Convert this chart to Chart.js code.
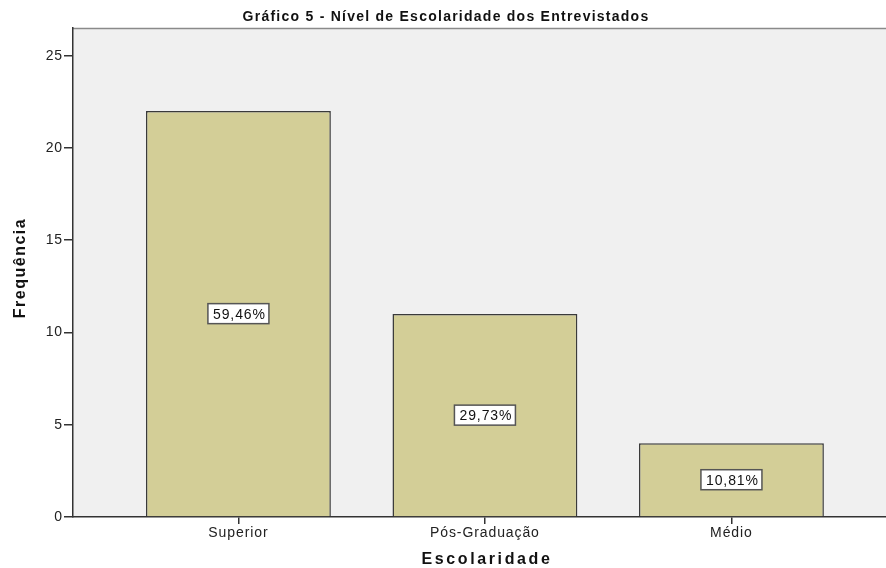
<!DOCTYPE html>
<html>
<head>
<meta charset="utf-8">
<script src="https://cdn.jsdelivr.net/npm/chart.js@4/dist/chart.umd.min.js"></script>
<style>
  body { margin: 0; background: #fff; }
  #wrap { width: 886px; height: 568px; }
</style>
</head>
<body>
<div id="wrap"><canvas id="grafico" width="886" height="568"></canvas></div>
<script>
// escolaridade dos entrevistados (frequência)
const categorias = ["Superior", "Pós-Graduação", "Médio"];
const frequencias = [22, 11, 4];
const yTicks = [0, 5, 10, 15, 20, 25];

const total = frequencias.reduce((a, b) => a + b, 0);
const percentuais = frequencias.map((v) => (v / total * 100).toFixed(2).replace(".", ",") + "%");

const fonte = "'Liberation Sans', Arial, sans-serif";

// fundo cinza da área do gráfico + borda superior
const fundo = {
  id: "fundo",
  beforeDraw(chart) {
    const { ctx, chartArea: a } = chart;
    ctx.save();
    ctx.fillStyle = "#f0f0f0";
    ctx.fillRect(a.left, a.top, a.right - a.left, a.bottom - a.top);
    ctx.strokeStyle = "#8a8a8a";
    ctx.lineWidth = 1.5;
    ctx.beginPath();
    ctx.moveTo(a.left, a.top + 0.5);
    ctx.lineTo(a.right, a.top + 0.5);
    ctx.stroke();
    ctx.restore();
    // espaçamento dos rótulos dos eixos
    ctx.letterSpacing = "0.9px";
  }
};

// título e nomes dos eixos
const textos = {
  id: "textos",
  afterDraw(chart) {
    const { ctx } = chart;
    ctx.save();
    ctx.fillStyle = "#111";
    ctx.textAlign = "center";
    ctx.textBaseline = "middle";
    ctx.font = "bold 14px " + fonte;
    ctx.letterSpacing = "1.25px";
    ctx.fillText("Gráfico 5 - Nível de Escolaridade dos Entrevistados", 446, 17);
    ctx.font = "bold 16px " + fonte;
    ctx.letterSpacing = "2.6px";
    ctx.fillText("Escolaridade", 487, 560);
    ctx.translate(21, 268);
    ctx.rotate(-Math.PI / 2);
    ctx.letterSpacing = "1.5px";
    ctx.fillText("Frequência", 0, 0);
    ctx.restore();
  }
};

// rótulos de percentual no meio de cada barra
const rotulos = {
  id: "rotulos",
  afterDatasetsDraw(chart) {
    const { ctx } = chart;
    const meta = chart.getDatasetMeta(0);
    ctx.save();
    ctx.font = "14px " + fonte;
    ctx.letterSpacing = "0.9px";
    ctx.textAlign = "center";
    ctx.textBaseline = "middle";
    meta.data.forEach((bar, i) => {
      const txt = percentuais[i];
      const cx = bar.x;
      const cy = (bar.y + bar.base) / 2;
      const w = 61;
      const h = 20;
      ctx.fillStyle = "#fff";
      ctx.fillRect(cx - w / 2, cy - h / 2, w, h);
      ctx.strokeStyle = "#555";
      ctx.lineWidth = 1.5;
      ctx.strokeRect(cx - w / 2, cy - h / 2, w, h);
      ctx.fillStyle = "#111";
      ctx.fillText(txt, cx + 1, cy + 1);
    });
    ctx.restore();
  }
};

new Chart(document.getElementById("grafico"), {
  type: "bar",
  data: {
    datasets: [{
      label: "Frequência",
      data: frequencias.map((v, i) => ({ x: i, y: v })),
      backgroundColor: "#d3ce97",
      borderColor: "#3a3a3a",
      borderWidth: 1.5,
      borderSkipped: "bottom",
      barPercentage: 0.75,
      categoryPercentage: 1
    }]
  },
  options: {
    responsive: false,
    animation: false,
    layout: { padding: { top: 28, left: 0, right: 0, bottom: 0 } },
    plugins: {
      legend: { display: false },
      tooltip: { enabled: false }
    },
    scales: {
      x: {
        type: "linear",
        offset: false,
        min: -0.671,
        max: 2.627,
        afterBuildTicks: (scale) => { scale.ticks = categorias.map((c, i) => ({ value: i })); },
        afterFit: (scale) => { scale.height = 51; },
        ticks: {
          callback: (v) => categorias[v],
          color: "#222",
          font: { size: 14, family: fonte },
          padding: 1,
          maxRotation: 0
        },
        grid: { offset: false, drawOnChartArea: false, drawTicks: true, tickLength: 7, color: "#333", lineWidth: 1.5 },
        border: { display: true, color: "#333", width: 1.5 }
      },
      y: {
        min: 0,
        max: 26.5,
        afterBuildTicks: (scale) => { scale.ticks = yTicks.map((v) => ({ value: v })); },
        afterFit: (scale) => { scale.width = 73; },
        ticks: {
          color: "#222",
          font: { size: 14, family: fonte },
          padding: 1
        },
        grid: { drawOnChartArea: false, drawTicks: true, tickLength: 9, color: "#333", lineWidth: 1.5 },
        border: { display: true, color: "#333", width: 1.5 }
      }
    }
  },
  plugins: [fundo, rotulos, textos]
});
</script>
</body>
</html>
